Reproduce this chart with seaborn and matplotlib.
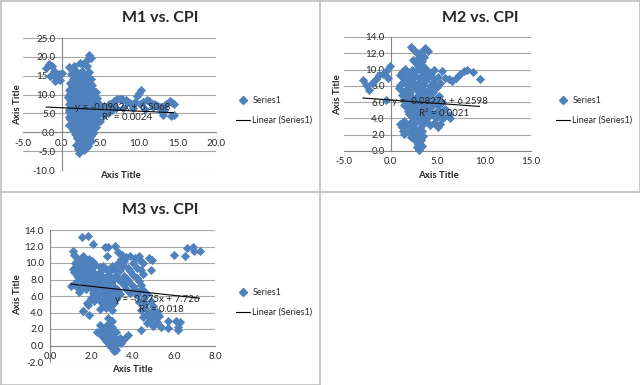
import numpy as np
import matplotlib
matplotlib.use('Agg')
import matplotlib.pyplot as plt
from matplotlib.lines import Line2D
import seaborn as sns

sns.set_theme(style='white')
plt.rcParams['font.family'] = ['Lato', 'DejaVu Sans']

W, H = 640, 385

# ---- M1 vs CPI ----
m1_x = [-2.0, -1.6, -1.3, -1.0, -1.5, -0.9, -0.6, -0.3, 0.0, -0.2, -0.8,
        1.0, 1.3, 1.6, 1.2, 2.0, 2.4, 2.8, 3.1, 3.5, 3.8, 3.3, 2.7, 3.6, 3.0, 2.2, 1.5, 3.8, 1.1, 2.6, 3.4, 4.0,
        1.4, 2.2, 3.0, 1.8, 3.2, 2.5, 1.8,
        0.9, 1.7, 2.5, 3.3, 4.1,
        1.3, 2.1, 2.9, 3.7,
        1.2, 2.0, 2.8, 3.6, 4.4,
        1.0, 1.6, 2.4, 3.2, 4.0,
        0.8, 1.6, 2.4, 3.2, 4.0, 4.6,
        1.2, 2.0, 2.8, 3.6, 4.4,
        1.1, 1.9, 2.7, 3.5, 4.3,
        1.4, 2.2, 3.0, 3.8, 4.6,
        0.9, 1.7, 2.5, 3.3, 4.1, 4.8,
        1.3, 2.1, 2.9, 3.7, 4.5, 5.5,
        1.2, 2.0, 2.8, 3.6, 4.4, 5.2,
        1.0, 1.6, 2.4, 3.2, 4.0, 4.8, 5.8,
        1.0, 1.8, 2.6, 3.4, 4.2, 5.0,
        1.4, 2.2, 3.0, 3.8, 4.6,
        1.3, 2.1, 2.9, 3.7, 4.5,
        1.0, 1.7, 2.5, 3.3, 4.1,
        1.1, 1.9, 2.7, 3.5, 4.3,
        1.5, 2.3, 3.1, 3.9,
        1.4, 2.2, 3.0, 3.8, 4.6,
        1.0, 1.8, 2.6, 3.4, 4.2,
        1.2, 2.0, 2.8, 3.6, 4.4,
        1.6, 2.4, 3.2, 4.0,
        1.5, 2.3, 3.1, 3.9,
        2.0, 2.8, 3.6,
        1.8, 2.6, 3.4, 4.1,
        2.2, 3.0, 3.8,
        2.0, 2.8, 3.6,
        2.4, 3.2,
        2.2, 3.0, 3.8,
        2.5, 3.2,
        1.9, 2.7, 3.4,
        2.5, 3.1,
        2.1, 2.9, 2.3,
        5.5, 6.0, 6.5, 7.0, 7.5, 8.0, 8.5, 9.0, 9.5, 9.8, 10.0, 10.3, 9.2, 10.5, 11.0, 11.5, 12.0,
        12.5, 13.0, 13.1, 13.5, 14.0, 14.5, 14.5, 14.2, 12.8, 11.8, 8.0, 7.0, 6.0, 5.5, 5.0, 6.5, 10.8,
        5.2, 5.8, 6.2, 6.8, 7.2, 7.8, 8.3, 8.8, 10.2, 11.3, 12.2, 12.7, 13.3, 14.2]
m1_y = [17.0, 18.0, 17.5, 16.2, 14.8, 15.5, 14.2, 15.5, 15.8, 13.8, 13.5,
        17.2, 16.5, 17.5, 15.5, 16.0, 18.5, 18.0, 19.0, 20.5, 19.8, 17.5, 16.2, 16.0, 15.0, 14.5, 14.0, 14.2, 13.0, 13.5, 12.8, 12.5,
        12.3, 12.0, 12.2, 13.2, 14.0, 15.2, 15.0,
        11.3, 11.7, 11.4, 11.6, 11.2,
        11.0, 10.9, 11.1, 11.0,
        10.6, 10.3, 10.8, 10.4, 10.6,
        10.0, 9.9, 10.1, 10.0, 9.9,
        9.4, 9.7, 9.3, 9.6, 9.5, 9.2,
        9.0, 8.9, 9.1, 9.0, 8.9,
        8.6, 8.3, 8.7, 8.4, 8.5,
        8.0, 7.9, 8.1, 8.0, 7.9,
        7.4, 7.7, 7.5, 7.3, 7.6, 7.4,
        7.0, 6.9, 7.1, 7.0, 6.9, 7.0,
        6.6, 6.3, 6.5, 6.7, 6.4, 6.6,
        6.0, 5.9, 6.1, 6.0, 5.9, 6.0, 6.1,
        5.4, 5.6, 5.3, 5.5, 5.7, 5.4,
        5.0, 4.9, 5.1, 5.0, 4.9,
        4.6, 4.4, 4.5, 4.7, 4.3,
        4.0, 3.9, 4.1, 4.0, 3.9,
        3.4, 3.6, 3.5, 3.3, 3.6,
        3.0, 2.9, 3.1, 3.0,
        2.5, 2.3, 2.6, 2.4, 2.6,
        2.0, 1.9, 2.1, 2.0, 1.9,
        1.6, 1.4, 1.5, 1.7, 1.4,
        1.0, 0.9, 1.1, 1.0,
        0.5, 0.6, 0.4, 0.5,
        0.0, -0.1, 0.1,
        -0.4, -0.6, -0.5, -0.3,
        -1.0, -1.1, -0.9,
        -1.5, -1.4, -1.6,
        -2.0, -2.1,
        -2.5, -2.6, -2.4,
        -3.0, -3.1,
        -3.5, -3.4, -3.6,
        -4.0, -4.1,
        -4.4, -4.6, -5.4,
        6.0, 7.0, 7.8, 8.5, 8.7, 8.5, 8.0, 7.5, 8.0, 9.5, 10.5, 11.2, 6.5, 8.0, 8.5, 8.0, 7.5,
        7.0, 5.5, 4.5, 7.5, 8.3, 7.5, 4.5, 4.2, 6.5, 6.8, 6.5, 6.5, 5.0, 4.5, 3.0, 6.0, 6.2,
        6.5, 6.5, 7.5, 8.2, 8.8, 8.8, 8.5, 7.7, 7.5, 8.2, 7.2, 6.8, 6.0, 7.9]

# ---- M2 vs CPI ----
m2_x = [-3.0, -2.6, -2.3, -2.0, -1.6, -1.3, -0.8, -0.5, -0.1, -0.3, -0.5,
        2.2, 2.5, 2.8, 3.0, 3.3, 3.5, 3.7, 4.0, 3.6, 2.4, 2.7, 3.2, 2.9,
        1.5, 2.3, 3.1, 3.9,
        1.2, 1.9, 2.7, 3.5, 4.3,
        1.0, 1.8, 2.6, 3.4, 4.2, 5.0,
        1.4, 2.2, 3.0, 3.8, 4.6,
        1.3, 2.1, 2.9, 3.7, 4.5, 5.3,
        1.0, 1.8, 2.6, 3.4, 4.2, 5.0,
        0.9, 1.7, 2.5, 3.3, 4.1, 4.9,
        1.3, 2.1, 2.9, 3.7, 4.5,
        1.2, 2.0, 2.8, 3.6, 4.4, 5.2,
        1.6, 2.4, 3.2, 4.0, 4.8,
        1.5, 2.3, 3.1, 3.9, 4.7, 5.5,
        1.4, 2.0, 2.8, 3.6, 4.4, 5.2,
        1.8, 2.6, 3.4, 4.2, 5.0, 5.8,
        1.8, 2.4, 3.2, 4.0, 4.8, 5.6,
        2.0, 2.8, 3.6, 4.4, 5.2, 6.2,
        2.4, 3.2, 4.0, 4.8, 5.6,
        1.4, 2.2, 3.0, 3.8, 4.6, 6.3,
        1.0, 1.6, 2.6, 3.4, 4.2, 5.3,
        1.2, 2.3, 3.1, 5.0,
        1.3, 2.0, 2.7, 3.3,
        1.4, 2.4, 3.0,
        2.2, 2.8, 3.4,
        2.6, 3.2, 2.9, 3.1, 2.8, 3.3, 3.0,
        5.8, 6.2, 6.6, 7.0, 7.4, 7.8, 8.2, 8.8, 9.5, 5.5, 4.6]
m2_y = [8.7, 8.1, 7.5, 8.4, 8.8, 9.3, 9.4, 9.8, 10.4, 9.0, 6.3,
        12.8, 12.4, 12.0, 11.6, 11.0, 10.5, 12.7, 12.3, 11.5, 11.2, 10.8, 12.2, 10.5,
        10.1, 9.9, 10.2, 10.0,
        9.7, 9.6, 9.8, 9.7, 9.6,
        9.3, 9.5, 9.2, 9.4, 9.3, 9.1,
        8.9, 8.8, 9.0, 8.9, 8.8,
        8.5, 8.6, 8.4, 8.6, 8.5, 8.3,
        8.1, 8.0, 8.2, 8.1, 8.0, 8.1,
        7.7, 7.6, 7.8, 7.7, 7.5, 7.8,
        7.3, 7.2, 7.4, 7.3, 7.2,
        6.9, 7.0, 6.8, 6.9, 7.1, 6.8,
        6.5, 6.4, 6.6, 6.5, 6.4,
        6.1, 6.2, 6.0, 6.1, 6.3, 6.0,
        5.7, 5.6, 5.8, 5.7, 5.6, 5.7,
        5.3, 5.4, 5.2, 5.3, 5.5, 5.2,
        4.9, 4.8, 5.0, 4.9, 4.8, 4.9,
        4.5, 4.6, 4.4, 4.5, 4.3, 4.4,
        4.1, 4.0, 4.2, 4.1, 4.0,
        3.7, 3.6, 3.8, 3.7, 3.5, 4.0,
        3.3, 3.2, 3.4, 3.3, 3.2, 3.3,
        2.9, 3.0, 2.8, 3.0,
        2.5, 2.4, 2.6, 2.5,
        2.1, 2.0, 2.2,
        1.7, 1.6, 1.8,
        1.3, 1.4, 0.9, 0.8, 0.5, 0.6, 0.1,
        9.0, 8.8, 8.6, 9.0, 9.4, 9.8, 10.0, 9.7, 8.8, 9.8, 10.0]

# ---- M3 vs CPI ----
m3_x = [1.55, 1.85, 2.1, 2.65, 2.8, 3.15, 1.1, 1.15, 2.75,
        1.3, 1.6, 1.9,
        1.45, 1.75, 2.05,
        1.2, 1.5, 1.8, 2.1,
        1.25, 1.55, 1.85, 2.2, 2.55,
        1.1, 1.4, 1.7, 2.0, 2.4, 2.7,
        1.15, 1.45, 1.75, 2.1, 2.4, 2.9,
        1.3, 1.6, 1.9, 2.2, 2.5, 2.8,
        1.35, 1.65, 1.95, 2.3, 2.6, 2.9, 3.1,
        1.5, 1.8, 2.1, 2.4, 2.7, 3.0,
        1.2, 1.65, 2.0, 2.35, 2.65, 2.95,
        1.0, 1.3, 1.9, 2.2, 2.5, 2.8, 3.1,
        1.5, 1.75, 2.05, 2.35, 2.65, 2.95, 3.25,
        1.4, 2.1, 2.4, 2.7, 3.0, 3.3,
        2.2, 2.5, 2.8, 3.1,
        2.0, 2.3, 2.6, 2.9, 3.2,
        2.15, 2.45, 2.75, 3.05,
        1.8, 2.5, 2.8, 3.1,
        2.6, 2.9,
        1.6, 2.4, 2.7, 3.0,
        3.3, 3.5, 3.6, 3.3, 3.0, 3.4, 3.8, 3.2, 3.6, 4.0, 3.5, 3.9, 4.3, 3.7, 4.1, 4.5, 3.4, 4.2, 4.6,
        3.7, 3.45, 3.15, 3.55, 3.9, 3.35, 3.75, 4.2, 3.6, 4.0, 4.4, 3.9, 4.3, 4.7, 4.5, 4.9,
        3.9, 4.1, 4.4, 4.0, 4.2, 4.8, 4.95, 4.5, 4.4, 4.9, 4.3, 4.5,
        4.3, 4.6, 5.0, 4.4, 4.8, 5.2, 4.5, 4.9, 5.3, 4.7, 5.0, 5.4, 4.4, 5.7, 5.7, 6.1, 6.2, 6.3, 6.2, 5.2,
        4.6, 5.0, 4.7, 5.1, 4.8,
        2.3, 2.6, 2.9, 3.2, 2.5, 2.8, 3.1, 3.4, 2.7, 3.0, 3.3, 2.9, 3.15, 3.1, 3.2, 3.6, 2.4, 2.8, 3.0, 2.8, 3.8,
        2.45, 2.75, 3.05, 2.6, 2.9, 3.2, 2.85, 3.1, 3.45, 2.6, 3.0,
        1.6, 1.9, 1.85,
        6.0, 6.55, 6.65, 6.95, 7.0, 7.25]
m3_y = [13.2, 13.3, 12.3, 12.0, 12.0, 12.1, 11.5, 11.0, 10.9,
        10.6, 10.8, 10.5,
        10.3, 10.4, 10.2,
        10.0, 10.2, 9.9, 10.1,
        9.65, 9.7, 9.6, 9.7, 9.6,
        9.3, 9.1, 9.4, 9.2, 9.5, 9.3,
        8.95, 8.9, 9.0, 8.9, 8.95, 9.0,
        8.6, 8.8, 8.5, 8.7, 8.4, 8.6,
        8.25, 8.2, 8.3, 8.25, 8.2, 8.3, 8.2,
        7.9, 8.0, 7.8, 7.9, 8.1, 7.8,
        7.55, 7.5, 7.6, 7.55, 7.5, 7.6,
        7.2, 7.1, 7.3, 7.2, 7.0, 7.3, 7.1,
        6.85, 6.8, 6.9, 6.85, 6.8, 6.9, 6.85,
        6.5, 6.4, 6.6, 6.5, 6.3, 6.6,
        6.15, 6.1, 6.2, 6.15,
        5.8, 5.7, 5.9, 5.8, 5.6,
        5.45, 5.4, 5.5, 5.45,
        5.1, 5.2, 5.0, 5.1,
        4.8, 4.8,
        4.2, 4.4, 4.5, 4.3,
        11.3, 11.0, 10.3, 10.0, 9.6, 9.2, 9.4, 8.6, 8.4, 8.6, 7.7, 7.6, 7.8, 6.9, 6.8, 6.7, 6.3, 6.1, 6.0,
        10.7, 10.5, 9.3, 9.7, 9.0, 8.0, 8.1, 8.2, 7.3, 7.2, 7.3, 6.4, 6.5, 6.3, 5.6, 5.4,
        10.9, 10.6, 10.2, 10.0, 9.4, 10.6, 10.4, 8.7, 9.2, 9.2, 10.9, 10.0,
        5.3, 5.0, 4.8, 4.3, 4.0, 4.1, 3.5, 3.2, 3.6, 2.7, 2.4, 2.3, 1.9, 3.0, 2.1, 3.0, 2.2, 2.8, 1.9, 2.8,
        4.5, 4.3, 3.8, 3.7, 3.0,
        1.6, 1.8, 1.9, 1.6, 1.2, 1.1, 1.0, 0.9, 0.5, 0.4, 0.5, -0.1, -0.3, -0.7, -0.5, 0.8, 2.5, 2.6, 3.0, 3.3, 1.3,
        1.7, 1.5, 1.5, 0.9, 0.8, 0.7, 0.2, 0.1, 0.3, 2.1, 2.2,
        4.2, 3.7, 4.9,
        11.0, 10.9, 11.8, 12.0, 11.5, 11.5]

titles = ['M1 vs. CPI', 'M2 vs. CPI', 'M3 vs. CPI']
slopes = [-0.0902, -0.0827, -0.275]
intercepts = [6.5068, 6.2598, 7.726]
equations = ['y = -0.0902x + 6.5068', 'y = -0.0827x + 6.2598', 'y = -0.275x + 7.726']
r2_labels = ['R² = 0.0024', 'R² = 0.0021', 'R² = 0.018']

BLUE = '#4F81BD'
GRID = '#A6A6A6'
AXIS = '#868686'
TXT = '#262626'

fig = plt.figure(figsize=(W / 100, H / 100), dpi=100)
fig.patch.set_facecolor('white')


def fx(px):
    return px / W


def fy(py):
    return 1 - py / H


def panel(xs, ys, box, xlim, ylim, step, k, ox, oy, eq_pos):
    # box = (left, top, right, bottom) of plot area in pixels
    l, t, r, b = box
    ax = fig.add_axes([fx(l), fy(b), fx(r) - fx(l), fy(t) - fy(b)])
    ax.set_xlim(*xlim)
    ax.set_ylim(*ylim)
    ax.set_xticks(np.arange(xlim[0], xlim[1] + 0.01, step[0]))
    ax.set_yticks(np.arange(ylim[0], ylim[1] + 0.01, step[1]))
    ax.xaxis.set_major_formatter(matplotlib.ticker.FormatStrFormatter('%.1f'))
    ax.yaxis.set_major_formatter(matplotlib.ticker.FormatStrFormatter('%.1f'))
    for yv in ax.get_yticks():
        ax.axhline(yv, color=GRID, lw=0.8, zorder=0)
    ax.spines['top'].set_visible(False)
    ax.spines['right'].set_visible(False)
    ax.spines['left'].set_position(('data', 0))
    ax.spines['bottom'].set_position(('data', 0))
    ax.spines['left'].set_color(AXIS)
    ax.spines['bottom'].set_color(AXIS)
    ax.spines['left'].set_linewidth(0.8)
    ax.spines['bottom'].set_linewidth(0.8)
    ax.tick_params(axis='both', labelsize=7, colors=TXT, length=3, width=0.6,
                   direction='out', pad=1.5, color=AXIS)
    ax.patch.set_alpha(0)

    sns.scatterplot(x=xs, y=ys, marker='D', s=22, color=BLUE, linewidth=0,
                    ax=ax, legend=False, zorder=3, clip_on=False)
    xr = np.array([min(xs), max(xs)])
    line, = ax.plot(xr, slopes[k] * xr + intercepts[k], color='black', lw=0.8, zorder=4)

    # titles and trendline labels
    fig.text(fx(ox + 160), fy(oy + 18), titles[k], ha='center', va='center',
             fontsize=11.5, fontweight='bold', color=TXT)
    fig.text(fx(eq_pos[0]), fy(eq_pos[1]), equations[k], ha='center', va='center',
             fontsize=7, color=TXT, zorder=5)
    fig.text(fx(eq_pos[0] + 4), fy(eq_pos[1] + 11), r2_labels[k], ha='center', va='center',
             fontsize=7, color=TXT, zorder=5)

    marker_h = Line2D([], [], marker='D', color=BLUE, linestyle='none', markersize=4.5)
    ax.legend([marker_h, line], ['Series1', 'Linear (Series1)'], loc='upper left',
              bbox_to_anchor=(fx(ox + 236), fy(oy + 96)), bbox_transform=fig.transFigure,
              frameon=False, fontsize=6.5, handlelength=1.5, labelspacing=1.2,
              handletextpad=0.3, borderpad=0, borderaxespad=0)
    return ax


ax1 = panel(m1_x, m1_y, (23, 38, 216, 170), (-5, 20), (-10, 25), (5, 5), 0, 0, 0, (123, 107))
fig.text(fx(120), fy(176), 'Axis Title', ha='center', va='center', fontsize=7, fontweight='bold', color=TXT)
fig.text(fx(18), fy(105), 'Axis Title', ha='center', va='center', rotation=90, fontsize=7, fontweight='bold', color=TXT)

ax2 = panel(m2_x, m2_y, (344, 37, 531, 151), (-5, 15), (0, 14), (5, 2), 1, 320, 0, (440, 102))
fig.text(fx(438), fy(175), 'Axis Title', ha='center', va='center', fontsize=7, fontweight='bold', color=TXT)
fig.text(fx(338), fy(95), 'Axis Title', ha='center', va='center', rotation=90, fontsize=7, fontweight='bold', color=TXT)

ax3 = panel(m3_x, m3_y, (50, 230, 215, 362), (0, 8), (-2, 14), (2, 2), 2, 0, 192, (157, 299))
fig.text(fx(132), fy(369), 'Axis Title', ha='center', va='center', fontsize=7, fontweight='bold', color=TXT)
fig.text(fx(18), fy(295), 'Axis Title', ha='center', va='center', rotation=90, fontsize=7, fontweight='bold', color=TXT)

# chart borders
BORDER = '#BFBFBF'
for (x0, y0, x1, y1) in [(0.5, 0.5, 639.5, 0.5), (0.5, 0.5, 0.5, 384.5), (320, 0, 320, 385),
                         (0, 192, 640, 192), (639.5, 0, 639.5, 192), (0, 384.5, 320, 384.5)]:
    fig.add_artist(Line2D([fx(x0), fx(x1)], [fy(y0), fy(y1)], transform=fig.transFigure,
                          color=BORDER, lw=1.2))

fig.savefig('out.png', dpi=100, facecolor='white')
